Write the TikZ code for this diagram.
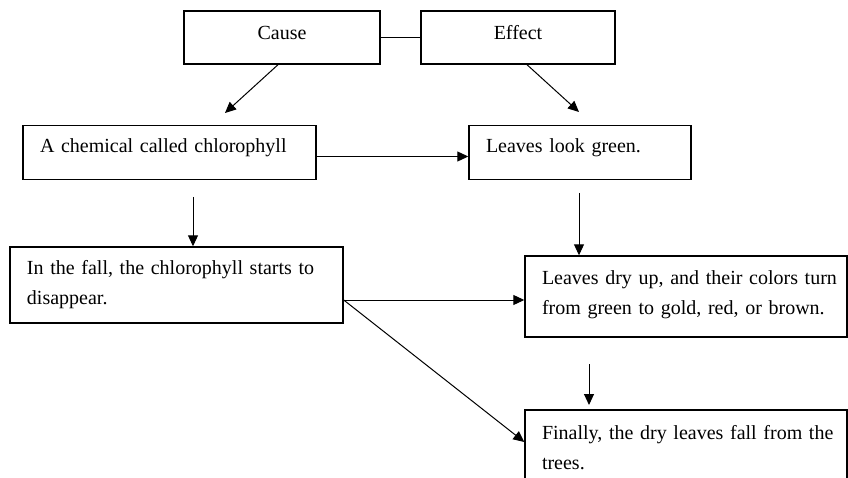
\documentclass[tikz,border=0pt]{standalone}
\usepackage{fontspec}
\setmainfont{Liberation Serif}
\usepackage{tikz}
\usetikzlibrary{arrows.meta, positioning}

\begin{document}
\begin{tikzpicture}[x=1pt, y=-1pt,
        box/.style = {draw, line width=1.4pt, rectangle, inner xsep=17pt, inner ysep=0pt,
                      font=\fontsize{20}{30}\selectfont},
        textbox/.style = {box, execute at begin node=\raggedright},
        arr/.style = {-{Triangle[length=11pt, width=10pt]}, line width=1pt}]
            \useasboundingbox (0,0) rectangle (848,478);
            \clip (0,0) rectangle (848,478);

            \node[box, text depth=10pt, minimum width=196pt, minimum height=53pt] (cause) at (282,37.5) {Cause};
            \node[box, text depth=10pt, minimum width=194pt, minimum height=53pt] (effect) at (518,37.5) {Effect};
            \draw[line width=1.2pt] (cause.east) -- (effect.west);

            \node[textbox, text depth=14pt, text width=259pt, minimum height=54pt] (chloro) at (169.5,152.5) {A chemical called chlorophyll};
            \node[textbox, text depth=14pt, text width=188pt, minimum height=54pt] (green) at (580,152.5) {Leaves look green.};

            \node[textbox, text width=299pt, minimum height=76pt] (fall) at (176.5,285)
                {In the fall, the chlorophyll starts to\\disappear.};
            \node[textbox, text depth=38pt, text width=288pt, minimum height=81pt] (dry) at (686,296.5)
                {\mbox{Leaves dry up, and their colors turn}\\from green to gold, red, or brown.};
            \node[textbox, text width=288pt, minimum height=76pt] (final) at (686,448)
                {\mbox{Finally, the dry leaves fall from the}\\trees.};

            % arrows
            \coordinate (cl) at (225,113);
            \coordinate (gr) at (579,112);
            \draw[arr] ([xshift=-4pt]cause.south) -- (cl);
            \draw[arr] ([xshift=9pt]effect.south) -- (gr);
            \draw[arr] ([yshift=-4pt]chloro.east) -- ([yshift=-4pt]green.west);

            \coordinate (cd) at (193,197);
            \draw[arr] (cd) -- (cd |- fall.north);
            \coordinate (gd) at (579,193);
            \draw[arr] (gd) -- (gd |- dry.north);

            \coordinate (fo) at (fall.east |- 0,300);
            \draw[arr] (fo) -- (fo -| dry.west);
            \draw[arr] (fo) -- (final.west |- 0,442);

            \coordinate (dd) at (589,364);
            \coordinate (fd) at (589,405);
            \draw[arr] (dd) -- (fd);
        \end{tikzpicture}
\end{document}
